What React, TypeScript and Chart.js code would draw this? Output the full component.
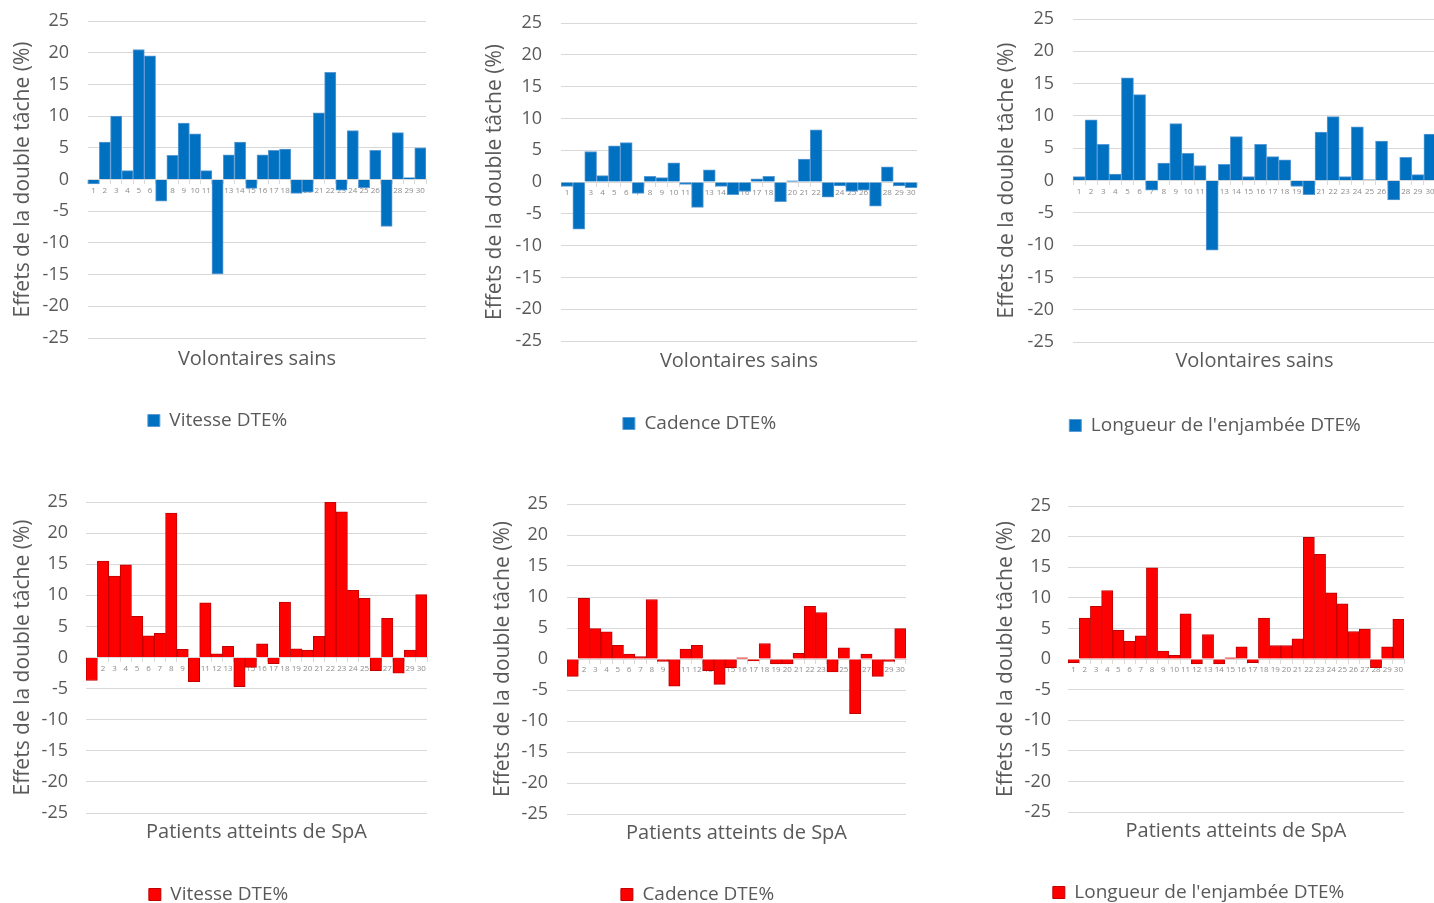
import React, { useEffect, useRef } from "react";
import { Chart, registerables } from "chart.js";

Chart.register(...registerables);

const categories = [
  "1", "2", "3", "4", "5", "6", "7", "8", "9", "10",
  "11", "12", "13", "14", "15", "16", "17", "18", "19", "20",
  "21", "22", "23", "24", "25", "26", "27", "28", "29", "30",
];

const vitesseSains = [
  -0.7, 5.9, 10.0, 1.4, 20.5, 19.5, -3.4, 3.8, 8.9, 7.2,
  1.4, -14.9, 3.9, 5.9, -1.4, 3.9, 4.6, 4.8, -2.2, -2.0,
  10.5, 16.9, -1.7, 7.7, -1.3, 4.6, -7.4, 7.4, 0.3, 5.0,
];

const cadenceSains = [
  -0.7, -7.4, 4.8, 1.0, 5.7, 6.2, -1.8, 0.9, 0.7, 3.0,
  -0.4, -4.0, 1.9, -0.7, -2.0, -1.5, 0.5, 0.9, -3.1, 0.2,
  3.6, 8.2, -2.4, -0.6, -1.5, -1.3, -3.8, 2.4, -0.6, -0.9,
];

const longueurSains = [
  0.6, 9.4, 5.6, 1.0, 15.9, 13.3, -1.5, 2.7, 8.8, 4.2,
  2.3, -10.8, 2.5, 6.8, 0.6, 5.6, 3.7, 3.2, -0.9, -2.2,
  7.5, 9.9, 0.6, 8.3, 0.1, 6.1, -3.0, 3.6, 0.9, 7.2,
];

const vitesseSpA = [
  -3.7, 15.5, 13.1, 14.9, 6.6, 3.5, 3.9, 23.2, 1.3, -3.9,
  8.8, 0.6, 1.8, -4.7, -1.6, 2.2, -1.0, 8.9, 1.4, 1.2,
  3.4, 25.0, 23.4, 10.8, 9.5, -2.1, 6.3, -2.5, 1.2, 10.1,
];

const cadenceSpA = [
  -2.8, 9.8, 4.9, 4.4, 2.2, 0.8, 0.4, 9.6, -0.4, -4.4,
  1.6, 2.2, -1.9, -4.1, -1.4, 0.2, -0.3, 2.5, -0.8, -0.8,
  0.9, 8.5, 7.5, -2.1, 1.8, -8.8, 0.8, -2.8, -0.4, 4.9,
];

const longueurSpA = [
  -0.6, 6.7, 8.6, 11.2, 4.7, 2.9, 3.8, 14.9, 1.3, 0.6,
  7.4, -0.8, 4.0, -0.8, 0.2, 2.0, -0.6, 6.7, 2.2, 2.2,
  3.3, 19.9, 17.1, 10.8, 9.0, 4.5, 4.9, -1.4, 2.0, 6.5,
];

const yAxisTitle = "Effets de la double tâche (%)";
const groupSains = "Volontaires sains";
const groupSpA = "Patients atteints de SpA";
const FONT = "'Open Sans', sans-serif";
const TEXT = "#595959";
const GRID = "#d9d9d9";

type PanelProps = {
  values: number[];
  label: string;
  xTitle: string;
  fill: string;
  stroke: string;
  left: number;
  top: number;
  width: number;
  height: number;
  padTop: number;
  padRight: number;
  axisWidth: number;
  yTitlePad: number;
  tickPad: number;
  titlePadTop: number;
  titlePadBottom: number;
};

function Panel(p: PanelProps) {
  const ref = useRef<HTMLCanvasElement | null>(null);
  useEffect(() => {
    if (!ref.current) return;
    const chart = new Chart(ref.current, {
      type: "bar",
      data: {
        labels: categories,
        datasets: [
          {
            label: p.label,
            data: p.values,
            backgroundColor: p.fill,
            borderColor: p.stroke,
            borderWidth: 1,
            categoryPercentage: 1,
            barPercentage: 1,
          },
        ],
      },
      options: {
        animation: false,
        responsive: false,
        maintainAspectRatio: false,
        layout: { padding: { top: p.padTop, right: p.padRight, bottom: 0, left: 0 } },
        scales: {
          x: {
            position: { y: 0 } as any,
            z: 1,
            grid: {
              display: true,
              drawOnChartArea: false,
              drawTicks: true,
              tickLength: 4,
              color: GRID,
              offset: true,
            },
            border: { display: true, color: GRID },
            ticks: {
              font: { size: 8, family: FONT },
              color: "#8c8c8c",
              padding: 2,
              maxRotation: 0,
              minRotation: 0,
              autoSkip: false,
            },
          },
          y: {
            min: -25,
            max: 25,
            ticks: {
              stepSize: 5,
              font: { size: 18, family: FONT },
              color: TEXT,
              padding: p.tickPad,
            },
            grid: { color: GRID, drawTicks: false },
            border: { display: false },
            title: {
              display: true,
              text: yAxisTitle,
              font: { size: 21, family: FONT },
              color: TEXT,
              padding: { top: p.yTitlePad, bottom: 0 },
            },
            afterFit: (s: any) => {
              s.width = p.axisWidth;
              s.paddingTop = 0;
              s.paddingBottom = 0;
            },
          },
        },
        plugins: {
          legend: {
            position: "bottom",
            weight: 3000,
            labels: {
              boxWidth: 12,
              boxHeight: 12,
              font: { size: 19, family: FONT },
              color: TEXT,
              padding: 10,
            },
          } as any,
          title: {
            display: true,
            text: p.xTitle,
            position: "bottom",
            fullSize: false,
            font: { size: 20, weight: "normal", family: FONT },
            color: TEXT,
            padding: { top: p.titlePadTop, bottom: p.titlePadBottom },
          },
          tooltip: { enabled: false },
        },
      },
    });
    return () => chart.destroy();
  }, []);
  return (
    <canvas
      ref={ref}
      width={p.width}
      height={p.height}
      style={{ position: "absolute", left: p.left, top: p.top, width: p.width, height: p.height }}
    />
  );
}

const BLUE = "#0070c0";
const BLUE_EDGE = "#5b9bd5";
const RED = "#ff0000";
const RED_EDGE = "#c00000";

export default function App() {
  return (
    <div
      style={{
        position: "fixed",
        left: 0,
        top: 0,
        width: 1434,
        height: 903,
        overflow: "hidden",
        background: "#ffffff",
      }}
    >
      <Panel values={vitesseSains} label="Vitesse DTE%" xTitle={groupSains} fill={BLUE} stroke={BLUE_EDGE}
        left={9} top={0} width={425} height={440} padTop={21} padRight={8} axisWidth={79} yTitlePad={1} tickPad={19}
        titlePadTop={9} titlePadBottom={30} />
      <Panel values={cadenceSains} label="Cadence DTE%" xTitle={groupSains} fill={BLUE} stroke={BLUE_EDGE}
        left={482} top={0} width={443} height={443} padTop={23} padRight={8} axisWidth={79} yTitlePad={0} tickPad={19}
        titlePadTop={8} titlePadBottom={31} />
      <Panel values={longueurSains} label="Longueur de l'enjambée DTE%" xTitle={groupSains} fill={BLUE} stroke={BLUE_EDGE}
        left={994} top={0} width={450} height={445} padTop={19} padRight={8} axisWidth={79} yTitlePad={0} tickPad={19}
        titlePadTop={7} titlePadBottom={33} />
      <Panel values={vitesseSpA} label="Vitesse DTE%" xTitle={groupSpA} fill={RED} stroke={RED_EDGE}
        left={10} top={470} width={425} height={444} padTop={32} padRight={8} axisWidth={76} yTitlePad={0} tickPad={18}
        titlePadTop={7} titlePadBottom={31} />
      <Panel values={cadenceSpA} label="Cadence DTE%" xTitle={groupSpA} fill={RED} stroke={RED_EDGE}
        left={489} top={470} width={425} height={444} padTop={34} padRight={8} axisWidth={78} yTitlePad={1} tickPad={19}
        titlePadTop={7} titlePadBottom={30} />
      <Panel values={longueurSpA} label="Longueur de l'enjambée DTE%" xTitle={groupSpA} fill={RED} stroke={RED_EDGE}
        left={993} top={470} width={419} height={442} padTop={36} padRight={8} axisWidth={75} yTitlePad={0} tickPad={17}
        titlePadTop={7} titlePadBottom={30} />
    </div>
  );
}
